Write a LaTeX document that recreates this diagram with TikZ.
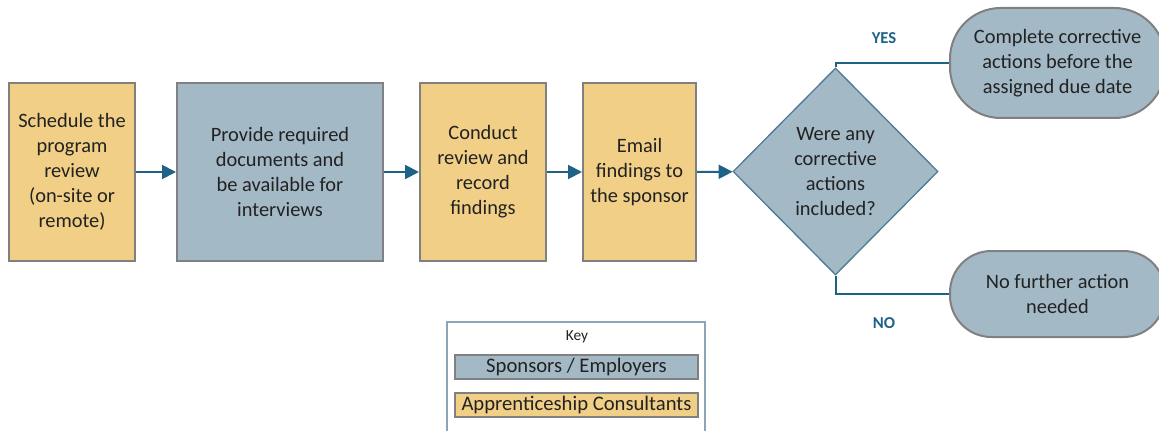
\documentclass[tikz,border=0pt]{standalone}
\usepackage{fontspec}
\setmainfont{Carlito}
\usetikzlibrary{arrows.meta,shapes.geometric}
\definecolor{sponsorblue}{HTML}{A3B9C6}
\definecolor{consultorange}{HTML}{F1CF86}
\definecolor{boxline}{HTML}{808080}
\definecolor{flowline}{HTML}{1F6288}
\definecolor{diamondline}{HTML}{4F7C94}
\definecolor{keyline}{HTML}{8CA6B6}
\definecolor{textdark}{HTML}{222222}
\tikzset{
    boxfont/.style={font=\fontsize{15.3}{18.75}\selectfont, text=textdark},
    stepbox/.style={draw=boxline, line width=1.5pt, align=center, inner sep=0pt, boxfont, minimum height=133.5pt},
    endbox/.style={draw=boxline, line width=1.5pt, align=center, inner sep=0pt, boxfont, fill=sponsorblue, minimum width=161.25pt},
    flow/.style={draw=flowline, line width=1.5pt, -{Triangle[length=10.5pt,width=10.5pt]}},
    branch/.style={draw=flowline, line width=1.5pt},
    answer/.style={font=\fontsize{12.5}{14}\selectfont\bfseries, text=flowline},
    keyitem/.style={draw=boxline, line width=1.5pt, inner sep=0pt, minimum width=182.25pt, minimum height=18pt, font=\fontsize{15.5}{18}\selectfont, text=textdark}
}
\begin{document}
\begin{tikzpicture}[x=0.75pt, y=-0.75pt]
    \useasboundingbox (0,0) rectangle (1159,431);
    % process steps
    \node[stepbox, fill=consultorange, minimum width=94.5pt] (schedule) at (72,172) {Schedule the\\program\\review\\(on-site or\\remote)};
    \node[stepbox, fill=sponsorblue, minimum width=154.5pt] (provide) at (280,172) {Provide required\\documents and\\be available for\\interviews};
    \node[stepbox, fill=consultorange, minimum width=94.5pt] (conduct) at (483,172) {Conduct\\review and\\record\\findings};
    \node[stepbox, fill=consultorange, minimum width=84.75pt] (email) at (639.5,172) {Email\\findings to\\the sponsor};
    \node[diamond, draw=diamondline, line width=1pt, fill=sponsorblue, align=center, inner sep=0pt, boxfont, minimum width=153.75pt, minimum height=155.25pt] (decide) at (835.5,171.5) {Were any\\corrective\\actions\\included?};
    % outcomes
    \node[endbox, rounded corners=38pt, minimum height=82.5pt] (complete) at (1057.5,63) {Complete corrective\\actions before the\\assigned due date};
    \node[endbox, rounded corners=31pt, minimum height=64.5pt] (nofurther) at (1057.5,294) {No further action\\needed};
    \draw[flow] (schedule) -- (provide);
    \draw[flow] (provide) -- (conduct);
    \draw[flow] (conduct) -- (email);
    \draw[flow] (email) -- (decide);
    \draw[branch] (decide.north) |- (complete.west);
    \draw[branch] (decide.south) |- (nofurther.west);
    \node[answer] (yes) at (884,38) {YES};
    \node[answer] (no) at (884,323) {NO};
    % key
    \draw[keyline, line width=1pt, fill=white] (447,322) rectangle (705,445);
    \node[font=\fontsize{11.5}{12}\selectfont, text=textdark] (keytitle) at (577,337) {Key};
    \node[keyitem, fill=sponsorblue] (keysponsor) at (576.5,367) {Sponsors / Employers};
    \node[keyitem, fill=consultorange] (keyconsult) at (576.5,405) {Apprenticeship Consultants};
\end{tikzpicture}
\end{document}
